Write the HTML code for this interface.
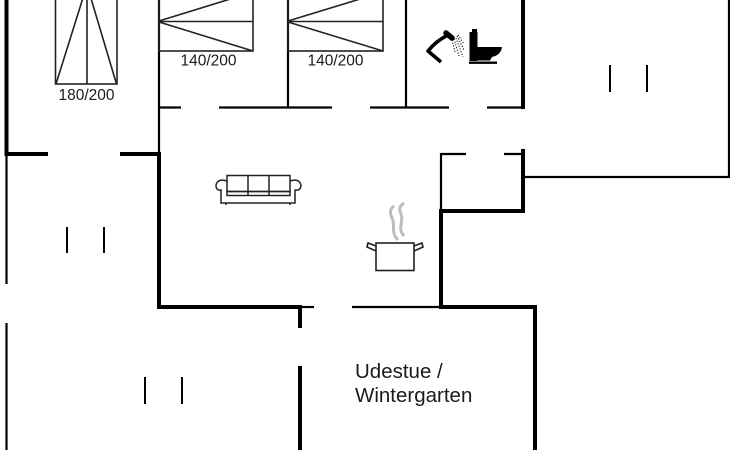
<!DOCTYPE html>
<html><head><meta charset="utf-8"><style>
html,body{margin:0;padding:0;background:#fff;}
svg{display:block;}
text{font-family:"Liberation Sans",Arial,sans-serif;fill:#1a1a1a;}
</style></head><body>
<svg width="730" height="450" viewBox="0 0 730 450" xmlns="http://www.w3.org/2000/svg">
<rect width="730" height="450" fill="#fff"/>
<g stroke="#000" stroke-linecap="butt" fill="none">
<!-- thick walls -->
<g stroke-width="4">
<line x1="6.5" y1="0" x2="6.5" y2="156"/>
<line x1="5" y1="154" x2="48" y2="154"/>
<line x1="120" y1="154" x2="161" y2="154"/>
<line x1="159" y1="152" x2="159" y2="309"/>
<line x1="157" y1="307" x2="302" y2="307"/>
<line x1="300" y1="305" x2="300" y2="328"/>
<line x1="300" y1="366" x2="300" y2="450"/>
<line x1="441" y1="210" x2="441" y2="309"/>
<line x1="439" y1="307" x2="537" y2="307"/>
<line x1="535" y1="305" x2="535" y2="450"/>
<line x1="523" y1="0" x2="523" y2="109"/>
<line x1="523" y1="149" x2="523" y2="213"/>
<line x1="439" y1="211" x2="525" y2="211"/>
</g>
<!-- thin walls -->
<g stroke-width="2.2">
<line x1="159" y1="0" x2="159" y2="154"/>
<line x1="6.5" y1="154" x2="6.5" y2="284"/>
<line x1="6.5" y1="323" x2="6.5" y2="450"/>
<line x1="160" y1="107.5" x2="181" y2="107.5"/>
<line x1="219" y1="107.5" x2="332" y2="107.5"/>
<line x1="370" y1="107.5" x2="449" y2="107.5"/>
<line x1="487" y1="107.5" x2="523" y2="107.5"/>
<line x1="288" y1="0" x2="288" y2="107"/>
<line x1="406" y1="0" x2="406" y2="107"/>
<line x1="441" y1="154" x2="466" y2="154"/>
<line x1="504" y1="154" x2="523" y2="154"/>
<line x1="441" y1="153" x2="441" y2="212"/>
<line x1="729" y1="0" x2="729" y2="178"/>
<line x1="523" y1="177" x2="730" y2="177"/>
<line x1="300" y1="307" x2="314" y2="307"/>
<line x1="352" y1="307" x2="441" y2="307"/>
</g>
<!-- window / door marks -->
<g stroke-width="2">
<line x1="610" y1="65" x2="610" y2="92"/>
<line x1="647" y1="65" x2="647" y2="92"/>
<line x1="67" y1="227" x2="67" y2="253"/>
<line x1="104" y1="227" x2="104" y2="253"/>
<line x1="145" y1="377" x2="145" y2="404"/>
<line x1="182" y1="377" x2="182" y2="404"/>
</g>
<!-- beds -->
<g stroke="#222" stroke-width="1.6">
<rect x="55.5" y="-16" width="61.5" height="100"/>
<line x1="87" y1="-16" x2="87" y2="84"/>
<line x1="56" y1="84" x2="87" y2="-15"/>
<line x1="116.5" y1="84" x2="87" y2="-15"/>

<rect x="159" y="-8" width="94" height="59"/>
<line x1="159" y1="21.5" x2="253" y2="21.5"/>
<line x1="159" y1="21" x2="253" y2="-8"/>
<line x1="159" y1="22" x2="253" y2="51"/>

<rect x="288" y="-8" width="95" height="59"/>
<line x1="288" y1="21.5" x2="383" y2="21.5"/>
<line x1="288" y1="21" x2="383" y2="-8"/>
<line x1="288" y1="22" x2="383" y2="51"/>
</g>
<!-- sofa -->
<g stroke="#222" stroke-width="1.5">
<rect x="227" y="175.5" width="63" height="16"/>
<line x1="248" y1="175.5" x2="248" y2="195"/>
<line x1="269" y1="175.5" x2="269" y2="195"/>
<rect x="227" y="191.5" width="63" height="4"/>
<path d="M227,181 Q218,178 216,185 Q216,191 221,190 L221,203 L295,203 L295,190 Q301,191 301,185 Q299,178 290,181"/>
<line x1="226" y1="203" x2="226" y2="205"/>
<line x1="290" y1="203" x2="290" y2="205"/>
</g>
<!-- pot -->
<path d="M398,240 C390,232 396,226 392,218 C389,212 391,208 394,206" stroke="#bdbdbd" stroke-width="3"/>
<path d="M404,236 C397,228 404,222 401,214 C398,208 401,205 404,203" stroke="#bdbdbd" stroke-width="3"/>
<g stroke="#222" stroke-width="1.6">
<rect x="376" y="243" width="38" height="27.5"/>
<path d="M376,246 L368,243 L367,247 L376,251"/>
<path d="M414,246 L422,243 L423,247 L414,251"/>
</g>
<!-- shower -->
<path d="M441,62 L428,51 Q436,41 448,35" stroke-width="3.6" stroke-linejoin="round"/>
<line x1="446" y1="33" x2="452" y2="38" stroke-width="5.5" stroke-linecap="round"/>
<g stroke-width="1" stroke-dasharray="1.2 1.6">
<line x1="452" y1="40" x2="455" y2="52"/>
<line x1="454" y1="39" x2="459" y2="56"/>
<line x1="456" y1="38" x2="463" y2="57"/>
<line x1="457" y1="36" x2="464" y2="50"/>
<line x1="458" y1="35" x2="464" y2="44"/>
</g>
</g>
<!-- toilet -->
<g fill="#000">
<rect x="472" y="29" width="5" height="3"/>
<rect x="469.5" y="32" width="8" height="29"/>
<path d="M476,47 L502,47 Q501,55 492,57 L490,60.5 L476,60.5 Z"/>
<rect x="469" y="61.5" width="28" height="2.4"/>
</g>
<!-- labels -->
<text x="86.5" y="100" font-size="15.5" text-anchor="middle">180/200</text>
<text x="208.5" y="65.5" font-size="15.5" text-anchor="middle">140/200</text>
<text x="335.5" y="65.5" font-size="15.5" text-anchor="middle">140/200</text>
<text x="355" y="378" font-size="20.5">Udestue /</text>
<text x="355" y="402" font-size="20.5">Wintergarten</text>
</svg>
</body></html>
